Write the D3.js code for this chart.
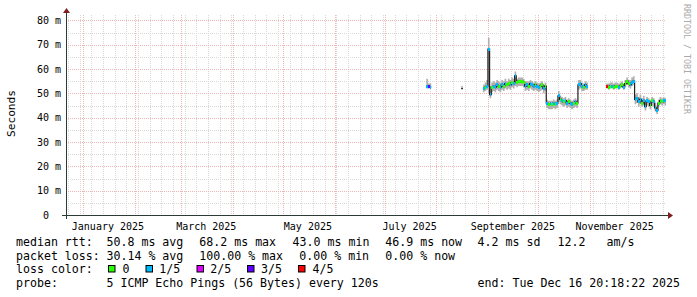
<!DOCTYPE html>
<html>
<head>
<meta charset="utf-8">
<script src="https://cdn.jsdelivr.net/npm/d3@7"></script>
<style>
body{margin:0;background:#fff}
svg{display:block}
text{font-family:"DejaVu Sans Mono",monospace;fill:#000}
</style>
</head>
<body>
<svg id="chart" width="697" height="297"></svg>
<script>
// one value per day, starting at seriesStart (null = no data)
var seriesStart = "2025-07-24";
var median = [
  null, null, 52.8, 53.0, 52.6, null, null, null, null, null,
  null, null, null, null, null, null, null, null, null, null,
  null, null, null, 52.0, null, null, null, null, null, null,
  null, null, null, null, null, null, 52.0, 52.5, 53.0, 68.2,
  49.5, 52.5, 53.0, 52.5, 53.5, 53.0, 52.5, 53.5, 53.0, 54.0,
  53.5, 54.0, 53.5, 54.5, 54.0, 57.2, 54.5, 55.0, 55.0, 55.0,
  54.5, 53.0, 53.5, 53.0, 54.0, 53.5, 53.0, 53.5, 53.0, 52.5,
  53.0, 53.5, 52.0, 53.0, 46.0, 45.5, 45.8, 45.5, 46.0, 45.5,
  46.0, 49.0, 47.5, 47.0, 46.5, 47.0, 46.0, 46.5, 46.0, 45.5,
  46.0, 46.5, 46.0, 53.5, 54.0, 53.0, 52.5, 53.5, 53.0, null,
  null, null, null, null, null, null, null, null, null, null,
  53.0, 52.5, 53.0, 53.0, 52.5, 53.0, 53.0, 52.5, 53.0, 53.5,
  52.5, 54.0, 55.0, 54.0, 53.5, 54.5, 55.0, 47.5, 48.0, 46.5,
  47.5, 46.0, 47.0, 44.5, 47.0, 46.5, 45.0, 47.0, 46.5, 44.0,
  43.0, 46.0, 47.0, 46.5, 47.0, 46.9
];
// lost pings out of 5 for each day
var lossCount = [
  null, null, 1, 3, 1, null, null, null, null, null,
  null, null, null, null, null, null, null, null, null, null,
  null, null, null, null, null, null, null, null, null, null,
  null, null, null, null, null, null, 1, 0, 1, 1,
  1, 0, 1, 1, 1, 0, 1, 1, 0, 1,
  0, 0, 1, 0, 1, 1, 0, 0, 0, 0,
  0, 1, 1, 0, 1, 1, 1, 0, 1, 1,
  0, 0, 1, 0, 1, 0, 1, 0, 1, 0,
  1, 1, 0, 1, 0, 1, 1, 0, 1, 1,
  0, 1, 0, 1, 1, 1, 0, 1, 1, null,
  null, null, null, null, null, null, null, null, null, null,
  4, 0, 0, 1, 0, 0, 0, 1, 0, 0,
  1, 0, 0, 0, 1, 1, 1, 1, 1, 1,
  1, 0, 1, 1, 1, 1, 0, 0, 1, 1,
  1, 0, 0, 0, 1, 1
];
var smokeHi = [
  null, null, 56.0, 54.0, 54.0, null, null, null, null, null,
  null, null, null, null, null, null, null, null, null, null,
  null, null, null, 53.0, null, null, null, null, null, null,
  null, null, null, null, null, null, 53.5, 54.5, 55.5, 72.8,
  53.0, 54.5, 55.0, 54.5, 55.5, 55.0, 54.5, 55.5, 55.0, 56.0,
  55.0, 56.0, 55.5, 56.5, 56.0, 59.0, 56.0, 56.5, 56.5, 56.5,
  56.0, 55.0, 55.0, 55.0, 55.5, 55.0, 54.5, 55.0, 54.5, 54.0,
  54.5, 55.0, 53.5, 54.5, 47.5, 47.0, 47.0, 47.0, 47.5, 47.0,
  47.5, 51.0, 49.0, 48.5, 48.0, 48.5, 47.5, 48.0, 47.5, 47.0,
  47.5, 48.0, 47.5, 55.5, 55.5, 54.5, 54.0, 55.0, 54.5, null,
  null, null, null, null, null, null, null, null, null, null,
  54.0, 54.0, 54.5, 54.5, 54.0, 54.5, 54.5, 54.0, 54.5, 55.0,
  54.0, 55.5, 56.5, 55.5, 55.5, 56.5, 57.0, 49.5, 50.0, 48.5,
  49.5, 48.0, 49.0, 47.0, 48.5, 48.0, 47.0, 48.5, 48.0, 46.0,
  45.0, 47.5, 48.5, 48.0, 48.5, 48.0
];
var smokeLo = [
  null, null, 52.0, 52.0, 52.0, null, null, null, null, null,
  null, null, null, null, null, null, null, null, null, null,
  null, null, null, 51.5, null, null, null, null, null, null,
  null, null, null, null, null, null, 50.5, 51.0, 51.5, 50.0,
  48.0, 50.5, 51.0, 50.5, 51.5, 51.0, 50.5, 51.5, 51.0, 52.0,
  51.5, 52.0, 51.5, 52.5, 52.0, 53.0, 52.5, 53.0, 53.0, 53.0,
  52.5, 51.0, 51.5, 51.0, 52.0, 51.5, 51.0, 51.5, 51.0, 50.5,
  51.0, 51.5, 50.0, 51.0, 44.0, 43.5, 43.5, 43.5, 44.0, 43.5,
  44.0, 46.5, 45.5, 45.0, 44.5, 45.0, 44.0, 44.5, 44.0, 43.5,
  44.0, 44.5, 44.0, 51.5, 52.0, 51.0, 51.0, 51.5, 51.5, null,
  null, null, null, null, null, null, null, null, null, null,
  52.0, 51.5, 52.0, 52.0, 51.5, 52.0, 52.0, 51.5, 52.0, 52.5,
  51.5, 52.5, 53.5, 52.5, 52.0, 53.0, 53.5, 45.5, 46.0, 44.5,
  45.5, 44.5, 45.0, 43.0, 45.0, 44.5, 43.5, 45.0, 44.5, 42.5,
  41.5, 44.5, 45.5, 45.0, 45.5, 45.0
];

var lossLabels = ["0", "1/5", "2/5", "3/5", "4/5"];
var lossColors = ["#26ff00", "#00b8ff", "#dd00ff", "#5e00ff", "#ff0000"];
var yTicks = [0, 10, 20, 30, 40, 50, 60, 70, 80];
var rttLegend = ["median rtt:", "50.8 ms avg", "68.2 ms max", "43.0 ms min", "46.9 ms now", "4.2 ms sd", "12.2   am/s"];
var lossLegend = ["packet loss:", "30.14 % avg", "100.00 % max", "0.00 % min", "0.00 % now"];
var probeLegend = ["probe:", "5 ICMP Echo Pings (56 Bytes) every 120s", "end: Tue Dec 16 20:18:22 2025"];

var svg = d3.select("#chart");
var plot = {left: 66, right: 666, top: 15, bottom: 215};

var endTime = new Date(Date.UTC(2025, 11, 16, 20, 18, 22));
var startTime = d3.utcDay.offset(endTime, -360);

var x = d3.scaleUtc().domain([startTime, endTime]).range([plot.left, plot.right]);
var y = d3.scaleLinear().domain([0, 82.2]).range([plot.bottom, plot.top]);

var crisp = function(v){ return Math.round(v) + 0.5; };

// grid
var minorCol = "#d8d8d8", majorCol = "#f0b6b6";
var grid = svg.append("g");
var monthStarts = d3.utcMonth.range(startTime, endTime);
d3.utcMonday.range(startTime, endTime).forEach(function(t){
  if (+d3.utcMonth.floor(t) === +t) return;
  grid.append("line")
      .attr("x1", crisp(x(t))).attr("x2", crisp(x(t)))
      .attr("y1", plot.top).attr("y2", plot.bottom)
      .attr("stroke", minorCol).attr("stroke-dasharray", "1,1");
});
d3.range(5, 80, 10).forEach(function(v){
  grid.append("line")
      .attr("x1", plot.left).attr("x2", plot.right)
      .attr("y1", crisp(y(v))).attr("y2", crisp(y(v)))
      .attr("stroke", minorCol).attr("stroke-dasharray", "1,1");
});
monthStarts.forEach(function(t){
  grid.append("line")
      .attr("x1", crisp(x(t))).attr("x2", crisp(x(t)))
      .attr("y1", plot.top).attr("y2", plot.bottom)
      .attr("stroke", majorCol).attr("stroke-dasharray", "1,1");
});
yTicks.filter(function(v){ return v > 0; }).forEach(function(v){
  grid.append("line")
      .attr("x1", plot.left).attr("x2", plot.right)
      .attr("y1", crisp(y(v))).attr("y2", crisp(y(v)))
      .attr("stroke", majorCol).attr("stroke-dasharray", "1,1");
});

// series points, with an extra closing point at the end of each run
var t0 = d3.utcParse("%Y-%m-%d")(seriesStart);
var pts = [];
median.forEach(function(v, i){
  if (v == null) { pts.push(null); return; }
  var p = {t: d3.utcDay.offset(t0, i), v: v, lo: smokeLo[i], hi: smokeHi[i], loss: lossCount[i]};
  pts.push(p);
  if (median[i + 1] == null) pts.push({t: d3.utcDay.offset(t0, i + 1), v: v, lo: p.lo, hi: p.hi, loss: null});
});

svg.append("clipPath").attr("id", "clip")
   .append("rect").attr("x", plot.left).attr("y", plot.top)
   .attr("width", plot.right - plot.left).attr("height", plot.bottom - plot.top);
var g = svg.append("g").attr("clip-path", "url(#clip)");

var smoke = d3.area()
    .defined(function(d){ return d != null; })
    .x(function(d){ return x(d.t); })
    .y0(function(d){ return y(d.lo); })
    .y1(function(d){ return y(d.hi); })
    .curve(d3.curveStepAfter);
g.append("path").datum(pts).attr("d", smoke).attr("fill", "#b0b0b0");

var medLine = d3.line()
    .defined(function(d){ return d != null; })
    .x(function(d){ return x(d.t); })
    .y(function(d){ return y(d.v); })
    .curve(d3.curveStepAfter);
g.append("path").datum(pts).attr("d", medLine)
 .attr("fill", "none").attr("stroke", "#202020").attr("stroke-width", 1.2);

g.selectAll("rect.loss")
 .data(pts.filter(function(d){ return d != null && d.loss != null; }))
 .enter().append("rect").attr("class", "loss")
 .attr("x", function(d){ return x(d.t); })
 .attr("width", function(d){ return x(d3.utcDay.offset(d.t, 1)) - x(d.t); })
 .attr("y", function(d){ return y(d.v) - 1.5; })
 .attr("height", 3)
 .attr("shape-rendering", "crispEdges")
 .attr("fill", function(d){ return lossColors[d.loss]; });

// axes
var axisCol = "#2c3a36";
svg.append("line").attr("x1", plot.left - 4).attr("x2", plot.right + 4)
   .attr("y1", plot.bottom + 0.5).attr("y2", plot.bottom + 0.5).attr("stroke", axisCol);
svg.append("line").attr("x1", plot.left + 0.5).attr("x2", plot.left + 0.5)
   .attr("y1", plot.bottom + 4).attr("y2", plot.top - 4).attr("stroke", axisCol);
svg.append("path")
   .attr("d", "M" + (plot.right + 2) + "," + (plot.bottom - 3) + "L" + (plot.right + 2) + "," + (plot.bottom + 4) + "L" + (plot.right + 7) + "," + (plot.bottom + 0.5) + "Z")
   .attr("fill", "#7f1f1f");
svg.append("path")
   .attr("d", "M" + (plot.left - 3) + "," + (plot.top - 2) + "L" + (plot.left + 4) + "," + (plot.top - 2) + "L" + (plot.left + 0.5) + "," + (plot.top - 7) + "Z")
   .attr("fill", "#7f1f1f");

// y labels
svg.selectAll("text.ylab").data(yTicks).enter().append("text")
   .attr("class", "ylab")
   .attr("x", function(d){ return d === 0 ? 49 : 61; })
   .attr("y", function(d){ return y(d) + 3.6; })
   .attr("text-anchor", "end")
   .style("font-size", "10px")
   .text(function(d){ return d === 0 ? "0" : d + " m"; });

// x labels: every second month, centred half a month after the month start
svg.selectAll("text.xlab")
   .data(monthStarts.filter(function(t){ return t.getUTCMonth() % 2 === 0; }))
   .enter().append("text").attr("class", "xlab")
   .attr("x", function(d){ return x(d3.utcDay.offset(d, 15)); })
   .attr("y", 229.5)
   .attr("text-anchor", "middle")
   .style("font-size", "10px")
   .text(d3.utcFormat("%B %Y"));

svg.append("text")
   .attr("transform", "translate(15,113.5) rotate(-90)")
   .attr("text-anchor", "middle")
   .style("font-size", "11.2px")
   .text("Seconds");

svg.append("text")
   .attr("transform", "translate(684,4) rotate(90)")
   .style("font-size", "8.3px")
   .style("fill", "#aaaaaa")
   .text("RRDTOOL / TOBI OETIKER");

// legend
var legendFont = "11.6px";
var rttX = [16, 106.5, 199.3, 292.6, 385.3, 477.6, 557.6];
var lossX = [16, 106.5, 199.3, 299.3, 385.3];
var probeX = [16, 106.5, 477.6];
function legendRow(items, xs, yb){
  items.forEach(function(s, i){
    svg.append("text").attr("x", xs[i]).attr("y", yb)
       .attr("xml:space", "preserve").style("white-space", "pre")
       .style("font-size", legendFont).text(s);
  });
}
legendRow(rttLegend, rttX, 245.7);
legendRow(lossLegend, lossX, 259.5);
svg.append("text").attr("x", 16).attr("y", 273.3).style("font-size", legendFont).text("loss color:");
var boxX = [108.5, 146, 197, 247.5, 298.5];
var boxLabX = [122.5, 159.2, 210.2, 261, 312.5];
lossLabels.forEach(function(s, i){
  svg.append("rect").attr("x", boxX[i]).attr("y", 265.5).attr("width", 6.5).attr("height", 6.5)
     .attr("fill", lossColors[i]).attr("stroke", "#000").attr("stroke-width", 1);
  svg.append("text").attr("x", boxLabX[i]).attr("y", 273.3).style("font-size", legendFont).text(s);
});
legendRow(probeLegend, probeX, 287.2);
</script>
</body>
</html>
